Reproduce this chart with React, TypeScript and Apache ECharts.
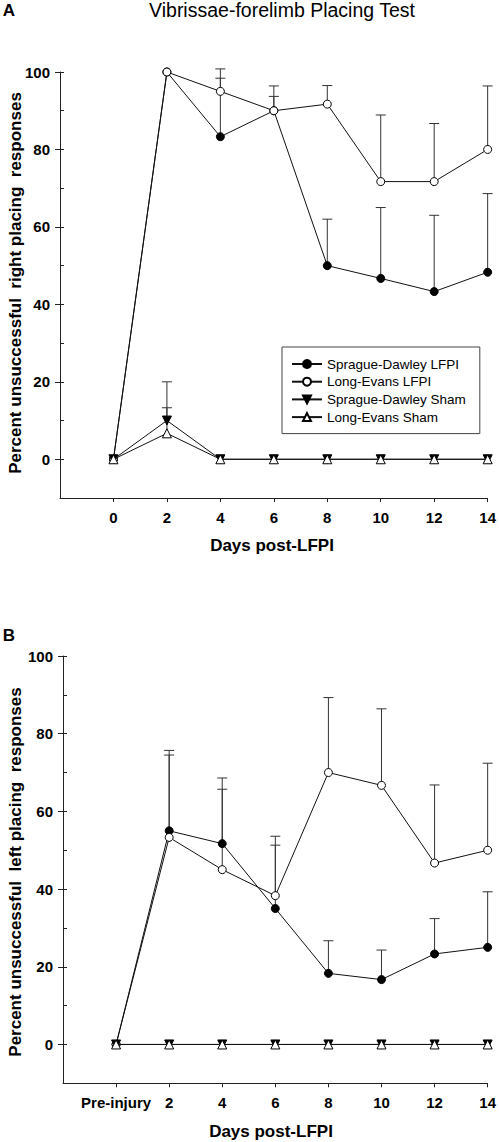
import React, { useEffect, useRef } from "react";
import * as echarts from "echarts";

const days = [0, 2, 4, 6, 8, 10, 12, 14];
const xTickValues = [0, 2, 4, 6, 8, 10, 12, 14];
const yTickValues = [0, 20, 40, 60, 80, 100];
const yInnerTickValues = [0, 10, 20, 30, 40, 50, 60, 70, 80, 90, 100];

const seriesNames = [
  "Sprague-Dawley LFPI",
  "Long-Evans LFPI",
  "Sprague-Dawley Sham",
  "Long-Evans Sham",
];

// Panel A: right placing
const sdLfpiA = [0, 100, 83.3, 90, 50, 46.7, 43.3, 48.3];
const sdLfpiAUpper = [null, null, 98.4, 93.7, 62, 65, 63, 68.6];
const leLfpiA = [0, 100, 95, 90, 91.7, 71.7, 71.7, 80];
const leLfpiAUpper = [null, null, 100.8, 96.4, 96.5, 88.9, 86.7, 96.4];
const sdShamA = [0, 10, 0, 0, 0, 0, 0, 0];
const sdShamAUpper = [null, 20, null, null, null, null, null, null];
const leShamA = [0, 6.7, 0, 0, 0, 0, 0, 0];
const leShamAUpper = [null, 13.3, null, null, null, null, null, null];

// Panel B: left placing
const sdLfpiB = [0, 55, 51.7, 35, 18.3, 16.7, 23.3, 25];
const sdLfpiBUpper = [null, 75.7, 68.6, 53.6, 26.7, 24.3, 32.4, 39.3];
const leLfpiB = [0, 53.3, 45, 38.3, 70, 66.7, 46.7, 50];
const leLfpiBUpper = [null, 74.5, 65.7, 51.3, 89.3, 86.4, 66.8, 72.4];
const sdShamB = [0, 0, 0, 0, 0, 0, 0, 0];
const leShamB = [0, 0, 0, 0, 0, 0, 0, 0];

const FONT = '"Liberation Sans", Arial, sans-serif';

function lineSeries(name: string, vals: number[], idx: number, kind: number) {
  const filled = kind === 0 || kind === 2;
  const symbol = kind < 2 ? "circle" : "triangle";
  return {
    type: "line",
    name,
    xAxisIndex: idx,
    yAxisIndex: idx * 2,
    data: days.map((d, i) => [d, vals[i]]),
    symbol,
    symbolSize: kind < 2 ? 8 : 9,
    symbolRotate: kind === 2 ? 180 : 0,
    showSymbol: true,
    lineStyle: { color: "#111", width: 1 },
    itemStyle: { color: filled ? "#000" : "#fff", borderColor: "#000", borderWidth: 1 },
    z: 3 + kind,
  };
}

function errSeries(vals: number[], upper: (number | null)[], idx: number) {
  const data = days
    .map((d, i) => [d, vals[i], upper[i]])
    .filter((r) => r[2] !== null);
  return {
    type: "custom",
    xAxisIndex: idx,
    yAxisIndex: idx * 2,
    data,
    encode: { x: 0, y: [1, 2] },
    z: 1,
    silent: true,
    renderItem: (params: any, api: any) => {
      const x = api.value(0);
      const p0 = api.coord([x, api.value(1)]);
      const p1 = api.coord([x, api.value(2)]);
      const st = { stroke: "#333", lineWidth: 1 };
      return {
        type: "group",
        children: [
          { type: "line", shape: { x1: p0[0], y1: p0[1], x2: p1[0], y2: p1[1] }, style: st },
          { type: "line", shape: { x1: p1[0] - 5, y1: p1[1], x2: p1[0] + 5, y2: p1[1] }, style: st },
        ],
      };
    },
  };
}

function xAxis(idx: number) {
  return {
    type: "value",
    gridIndex: idx,
    position: "bottom",
    min: -2,
    max: 14,
    interval: 2,
    splitLine: { show: false },
    axisLine: { show: true, onZero: false, lineStyle: { color: "#222", width: 1 } },
    axisTick: { show: true, length: 4, customValues: xTickValues, lineStyle: { color: "#222" } },
    axisLabel: {
      customValues: xTickValues,
      margin: 12,
      color: "#000",
      fontSize: 15,
      fontWeight: "bold",
      fontFamily: FONT,
      formatter: (v: number) => (idx === 1 && v === 0 ? "Pre-injury" : String(v)),
    },
  };
}

function yAxes(idx: number) {
  return [
    {
      type: "value",
      gridIndex: idx,
      position: "left",
      offset: 0,
      min: -10,
      max: 100,
      interval: 10,
      splitLine: { show: false },
      axisLine: { show: true, onZero: false, lineStyle: { color: "#222", width: 1 } },
      axisTick: { show: true, length: 5, customValues: yTickValues, lineStyle: { color: "#222" } },
      axisLabel: {
        customValues: yTickValues,
        margin: 10,
        color: "#000",
        fontSize: 15,
        fontWeight: "bold",
        fontFamily: FONT,
      },
    },
    {
      type: "value",
      gridIndex: idx,
      position: "left",
      offset: 0,
      min: -10,
      max: 100,
      interval: 10,
      splitLine: { show: false },
      axisLine: { show: false, onZero: false },
      axisTick: { show: true, inside: true, length: 4, customValues: yInnerTickValues, lineStyle: { color: "#222" } },
      axisLabel: { show: false },
    },
  ];
}

export default function App() {
  const ref = useRef<HTMLDivElement>(null);
  useEffect(() => {
    if (!ref.current) return;
    const chart = echarts.init(ref.current, null, { renderer: "svg" });
    const txt = (text: string, x: number, y: number, size: number, rot = 0, weight = "bold") => ({
      type: "text",
      x,
      y,
      rotation: rot,
      style: {
        text,
        fill: "#000",
        fontSize: size,
        fontWeight: weight,
        fontFamily: FONT,
        align: "center",
        verticalAlign: "middle",
      },
    });
    chart.setOption({
      animation: false,
      backgroundColor: "#fff",
      grid: [
        { left: 60, top: 72, width: 427.7, height: 426 },
        { left: 63, top: 656, width: 428, height: 427.3 },
      ],
      xAxis: [xAxis(0), xAxis(1)],
      yAxis: [...yAxes(0), ...yAxes(1)],
      legend: {
        data: seriesNames,
        orient: "vertical",
        left: 282,
        top: 347,
        itemWidth: 30,
        itemHeight: 10,
        itemGap: 3.7,
        padding: [10, 14, 9.5, 9],
        borderColor: "#444",
        borderWidth: 1,
        textStyle: { fontSize: 13.5, lineHeight: 13, color: "#000", fontFamily: FONT },
        selectedMode: false,
      },
      graphic: [
        txt("A", 9, 10, 17),
        txt("Vibrissae-forelimb Placing Test", 282, 10, 19.5, 0, "normal"),
        txt("Percent unsuccessful  right placing  responses", 15, 283, 17, Math.PI / 2),
        txt("Days post-LFPI", 272, 545, 17),
        txt("B", 9, 635, 17),
        txt("Percent unsuccessful  left placing  responses", 15, 872, 17, Math.PI / 2),
        txt("Days post-LFPI", 271, 1131, 17),
      ],
      series: [
        errSeries(sdLfpiA, sdLfpiAUpper, 0),
        errSeries(leLfpiA, leLfpiAUpper, 0),
        errSeries(sdShamA, sdShamAUpper, 0),
        errSeries(leShamA, leShamAUpper, 0),
        lineSeries(seriesNames[0], sdLfpiA, 0, 0),
        lineSeries(seriesNames[1], leLfpiA, 0, 1),
        lineSeries(seriesNames[2], sdShamA, 0, 2),
        lineSeries(seriesNames[3], leShamA, 0, 3),
        errSeries(sdLfpiB, sdLfpiBUpper, 1),
        errSeries(leLfpiB, leLfpiBUpper, 1),
        lineSeries(seriesNames[0], sdLfpiB, 1, 0),
        lineSeries(seriesNames[1], leLfpiB, 1, 1),
        lineSeries(seriesNames[2], sdShamB, 1, 2),
        lineSeries(seriesNames[3], leShamB, 1, 3),
      ],
    });
    return () => chart.dispose();
  }, []);
  return (
    <div
      ref={ref}
      style={{ position: "absolute", left: 0, top: 0, width: 499, height: 1142, background: "#fff" }}
    />
  );
}
